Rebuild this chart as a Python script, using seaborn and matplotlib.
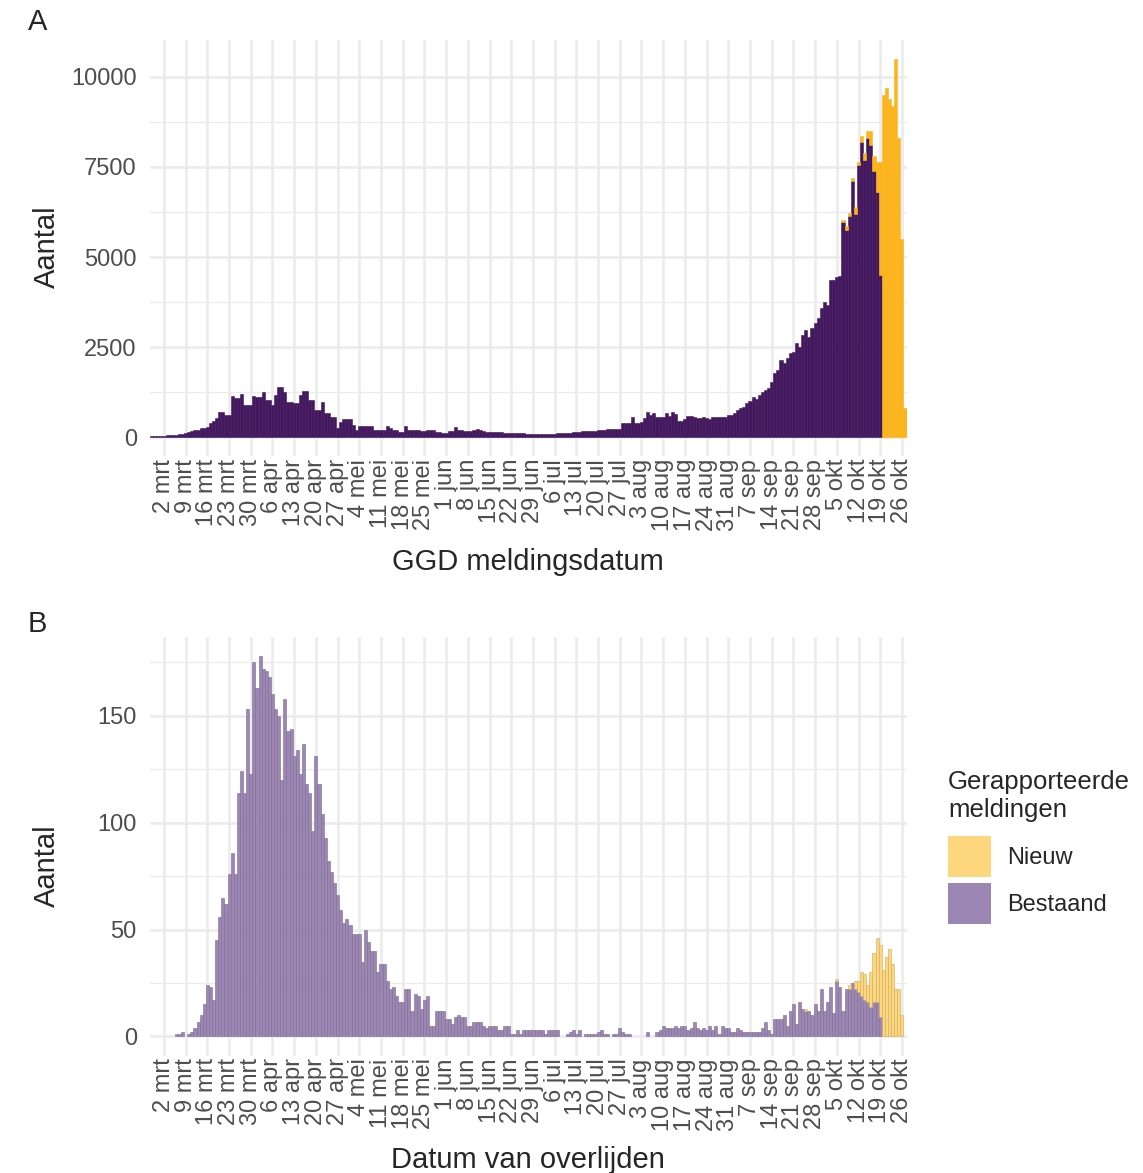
import matplotlib
matplotlib.use("Agg")
import matplotlib.pyplot as plt
import numpy as np
import pandas as pd
import seaborn as sns
from matplotlib.patches import Patch
from matplotlib.ticker import FixedLocator
import matplotlib.colors as mcolors

# ---------------- data ----------------
ref_date = "2020-03-02"

# Panel A: GGD meldingsdatum (daily counts)
a_start = "2020-02-27"
a_bestaand = [
    20, 25, 30, 35,
    40, 45, 55, 60, 70, 80, 90,
    110, 150, 170, 190, 200, 240, 250,
    270, 380, 450, 520, 700, 690, 610,
    600, 1140, 1075, 1075, 1190, 890, 890,
    890, 1140, 1100, 1100, 1240, 1030, 1030,
    890, 1170, 1380, 1380, 1260, 980, 980,
    935, 935, 1170, 1290, 1290, 1030, 1030,
    750, 750, 980, 660, 660, 565, 565,
    240, 425, 490, 490, 490, 330, 195,
    305, 305, 305, 305, 305, 195, 195,
    195, 195, 305, 250, 195, 195, 150,
    150, 305, 200, 195, 195, 195, 165,
    165, 195, 210, 210, 150, 150, 120,
    120, 175, 175, 270, 210, 210, 165,
    165, 165, 195, 220, 200, 165, 150,
    150, 140, 140, 140, 130, 120, 120,
    120, 100, 100, 100, 100, 90, 90,
    90, 85, 85, 85, 85, 85, 85,
    85, 100, 100, 120, 120, 120, 150,
    150, 150, 165, 165, 175, 175, 175,
    195, 195, 195, 230, 230, 230, 230,
    230, 380, 380, 400, 565, 380, 380,
    425, 520, 685, 610, 660, 565, 565,
    565, 675, 585, 700, 630, 455, 455,
    490, 595, 595, 565, 535, 535, 565,
    520, 490, 565, 560, 560, 560, 565,
    610, 620, 660, 750, 800, 840, 935,
    1000, 1120, 1050, 1165, 1260, 1305, 1350,
    1540, 1770, 1860, 2140, 2050, 2185, 2325,
    2370, 2600, 2510, 2835, 2970, 2790, 3020,
    3160, 3300, 3575, 3760, 3670, 4360, 4360,
    4450, 4470, 5980, 5750, 6150, 7120, 6200,
    7550, 8200, 7700, 8300, 8100, 7400, 6800,
    4500, 0, 0, 0, 0, 0, 0, 0, 0,
]
a_nieuw_start = "2020-10-07"
a_nieuw = [50, 100, 60, 70, 200, 100, 150, 200, 200, 400, 400, 850,
           3150, 9500, 9700, 9400, 9200, 10500, 8300, 5500, 800]

# Panel B: Datum van overlijden (daily counts)
b_start = "2020-03-02"
b_bestaand = [
    0, 0, 0, 0, 1, 1, 2,
    0, 1, 2, 4, 7, 10, 15,
    24, 23, 17, 45, 56, 65, 62,
    76, 86, 76, 114, 124, 114, 153,
    123, 175, 163, 178, 172, 171, 168,
    160, 153, 150, 120, 158, 143, 144,
    131, 134, 123, 137, 118, 114, 96,
    131, 118, 104, 93, 82, 77, 72,
    66, 59, 53, 55, 52, 48, 48,
    48, 35, 50, 44, 40, 40, 30,
    34, 34, 26, 22, 23, 19, 16,
    16, 22, 22, 12, 20, 19, 13,
    17, 19, 5, 5, 12, 12, 12,
    8, 8, 6, 9, 10, 9, 9,
    5, 5, 7, 7, 7, 5, 4,
    5, 5, 5, 3, 3, 5, 5,
    1, 1, 3, 1, 3, 3, 3,
    3, 3, 3, 3, 1, 3, 3,
    3, 3, 0, 0, 1, 2, 3,
    1, 3, 0, 1, 1, 1, 1,
    2, 3, 1, 1, 0, 1, 1,
    4, 2, 1, 1, 0, 0, 0,
    0, 0, 2, 0, 0, 2, 3,
    5, 4, 4, 4, 5, 4, 5,
    5, 3, 4, 7, 4, 3, 4,
    3, 5, 3, 5, 1, 5, 4,
    4, 2, 2, 4, 3, 2, 2,
    2, 2, 2, 2, 4, 7, 3,
    1, 8, 8, 8, 10, 5, 12,
    15, 6, 16, 13, 12, 12, 10,
    15, 12, 22, 12, 16, 23, 11,
    26, 23, 12, 22, 22, 25, 22,
    21, 19, 17, 16, 14, 16, 16,
    9, 0, 0, 0, 0, 0, 0, 0,
]
b_nieuw_start = "2020-09-25"
b_nieuw = [1, 0, 0, 0, 0, 0, 0, 0, 0, 0, 1, 0, 0, 0, 2, 0,
           4, 5, 11, 12, 8, 16, 23, 30, 34, 31, 37, 41, 34, 22, 22, 10]

tick_start, tick_end = "2020-03-02", "2020-10-26"
tick_labels = ["2 mrt", "9 mrt", "16 mrt", "23 mrt", "30 mrt", "6 apr", "13 apr",
               "20 apr", "27 apr", "4 mei", "11 mei", "18 mei", "25 mei", "1 jun",
               "8 jun", "15 jun", "22 jun", "29 jun", "6 jul", "13 jul", "20 jul",
               "27 jul", "3 aug", "10 aug", "17 aug", "24 aug", "31 aug", "7 sep",
               "14 sep", "21 sep", "28 sep", "5 okt", "12 okt", "19 okt", "26 okt"]

a_yticks = [0, 2500, 5000, 7500, 10000]
b_yticks = [0, 50, 100, 150]

# ---------------- styling ----------------
pal_a = {"Nieuw": "#fbb41c", "Bestaand": "#43185e"}
pal_b = {"Nieuw": "#fdd67d", "Bestaand": "#9c86b4"}
grid_col = "#ebebeb"
text_grey = "#4d4d4d"

sns.set_theme(style="white")
plt.rcParams["font.family"] = ["Liberation Sans", "DejaVu Sans"]


def make_frame(start, bestaand, nieuw_start, nieuw):
    ref = pd.Timestamp(ref_date)
    b = pd.DataFrame({"dag": (pd.date_range(start, periods=len(bestaand)) - ref).days,
                      "n": bestaand, "type": "Bestaand"})
    n = pd.DataFrame({"dag": (pd.date_range(nieuw_start, periods=len(nieuw)) - ref).days,
                      "n": nieuw, "type": "Nieuw"})
    return pd.concat([b, n], ignore_index=True)


df_a = make_frame(a_start, a_bestaand, a_nieuw_start, a_nieuw)
df_b = make_frame(b_start, b_bestaand, b_nieuw_start, b_nieuw)

W, H = 1143, 1173
fig = plt.figure(figsize=(W / 100, H / 100), dpi=100)
fig.patch.set_facecolor("white")

x0, x1 = 150, 906.6
ax_a = fig.add_axes([x0 / W, 1 - 456 / H, (x1 - x0) / W, 416 / H])
ax_b = fig.add_axes([x0 / W, 1 - 1055.5 / H, (x1 - x0) / W, 418.5 / H])

tick_pos = (pd.date_range(tick_start, tick_end, freq="7D") - pd.Timestamp(ref_date)).days
xlim = (df_a["dag"].min() - 0.5, df_a["dag"].max() + 0.5)


def style_axis(ax, yticks, yminor, ylim):
    ax.set_xlim(*xlim)
    ax.set_ylim(*ylim)
    ax.set_facecolor("white")
    for s in ax.spines.values():
        s.set_visible(False)
    ax.xaxis.set_major_locator(FixedLocator(list(tick_pos)))
    ax.set_xticklabels(tick_labels, rotation=90, fontsize=17, color=text_grey)
    ax.set_yticks(yticks)
    ax.set_yticklabels([str(v) for v in yticks], fontsize=17, color=text_grey)
    ax.yaxis.set_minor_locator(FixedLocator(yminor))
    ax.tick_params(axis="both", which="both", length=0)
    ax.tick_params(axis="x", pad=2)
    ax.tick_params(axis="y", pad=9.5)
    ax.grid(True, which="major", axis="both", color=grid_col, linewidth=1.8)
    ax.grid(True, which="minor", axis="y", color=grid_col, linewidth=1.0)
    ax.set_axisbelow(True)
    ax.set_xlabel("")
    ax.set_ylabel("")


def darker(c, f):
    r, g, b = mcolors.to_rgb(c)
    return (r * f, g * f, b * f)


# Panel A
sns.histplot(data=df_a, x="dag", weights="n", hue="type", hue_order=["Nieuw", "Bestaand"],
             palette=pal_a, multiple="stack", discrete=True, shrink=1, alpha=1,
             linewidth=0, legend=False, ax=ax_a)
for p in ax_a.patches:
    if p.get_height() <= 0:
        p.set_visible(False)
    else:
        p.set_edgecolor(p.get_facecolor())
        p.set_linewidth(0.4)
style_axis(ax_a, a_yticks, [1250, 3750, 6250, 8750], (-525, 11025))

# Panel B
sns.histplot(data=df_b, x="dag", weights="n", hue="type", hue_order=["Nieuw", "Bestaand"],
             palette=pal_b, multiple="stack", discrete=True, shrink=1, alpha=1,
             linewidth=0, legend=False, ax=ax_b)
for p in ax_b.patches:
    if p.get_height() <= 0:
        p.set_visible(False)
    else:
        p.set_edgecolor(darker(p.get_facecolor(), 0.8))
        p.set_linewidth(0.4)
style_axis(ax_b, b_yticks, [25, 75, 125, 175], (-8.9, 186.9))

# Titles / labels
fig.text(28 / W, 1 - 8 / H, "A", fontsize=21, ha="left", va="top")
fig.text(28 / W, 1 - 610 / H, "B", fontsize=21, ha="left", va="top")
fig.text(47 / W, 1 - 247 / H, "Aantal", fontsize=21, rotation=90, ha="center", va="center")
fig.text(47 / W, 1 - 866 / H, "Aantal", fontsize=21, rotation=90, ha="center", va="center")
fig.text((x0 + x1) / 2 / W, 1 - 562 / H, "GGD meldingsdatum", fontsize=21, ha="center", va="center")
fig.text((x0 + x1) / 2 / W, 1 - 1160 / H, "Datum van overlijden", fontsize=21, ha="center", va="center")

handles = [Patch(facecolor=pal_b["Nieuw"], edgecolor="none"),
           Patch(facecolor=pal_b["Bestaand"], edgecolor="none")]
leg = fig.legend(handles, ["Nieuw", "Bestaand"], title="Gerapporteerde\nmeldingen",
                 loc="upper left", bbox_to_anchor=(948 / W, 1 - 770 / H),
                 frameon=False, fontsize=17, title_fontsize=18.5, alignment="left",
                 handlelength=1.8, handleheight=2.3, handletextpad=0.7,
                 labelspacing=0.25, borderpad=0, borderaxespad=0)
leg._legend_box.sep = 10.5

fig.savefig("out.png", dpi=100, facecolor="white")
